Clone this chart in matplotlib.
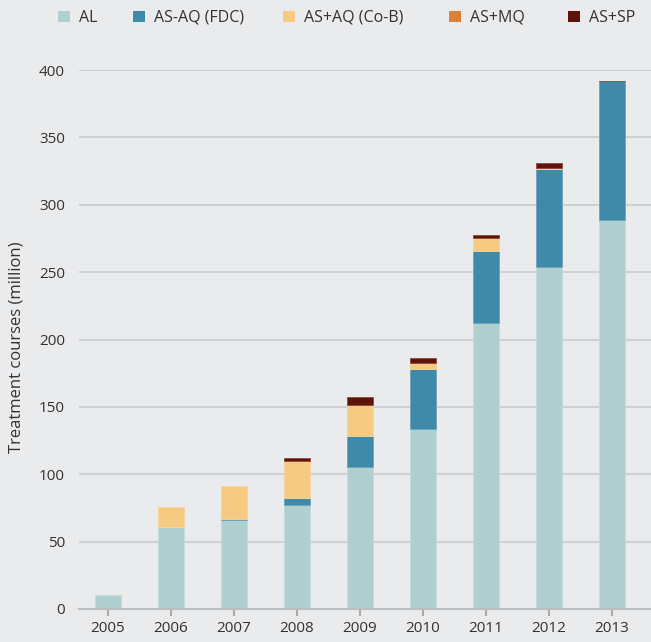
import matplotlib
matplotlib.use("Agg")
import matplotlib.pyplot as plt
from matplotlib.patches import Patch
import numpy as np

years = ["2005", "2006", "2007", "2008", "2009", "2010", "2011", "2012", "2013"]
series_names = ["AL", "AS-AQ (FDC)", "AS+AQ (Co-B)", "AS+MQ", "AS+SP"]
al      = [10.5, 61.0, 66.0, 77.5, 105.5, 133.5, 212.5, 253.5, 288.5]
as_aq   = [0.0, 0.0, 1.0, 5.0, 23.0, 44.5, 53.0, 73.0, 103.0]
as_aq_cob = [0.0, 15.0, 24.5, 27.5, 23.0, 4.8, 10.0, 0.6, 0.0]
as_mq   = [0.0, 0.0, 0.0, 0.0, 0.0, 0.0, 0.0, 0.5, 0.0]
as_sp   = [0.0, 0.0, 0.0, 1.8, 5.5, 3.3, 2.0, 3.3, 0.7]
yticks = [0, 50, 100, 150, 200, 250, 300, 350, 400]

colors = ["#B0CFD1", "#3F89A9", "#F6CA80", "#D9823A", "#5E1409"]
edges = ["#C3DBDC", "#6FA3BC", "#F8D69C", "#E39A5E", "#8A4A40"]
bg = "#EAEBED"
txt = "#333333"

plt.rcParams['font.family'] = ['Open Sans', 'DejaVu Sans']

fig = plt.figure(figsize=(6.51, 6.42), dpi=100, facecolor=bg)
ax = fig.add_axes([79/651, 1 - 609/642, 1 - 79/651, (609 - 70)/642])
ax.set_facecolor(bg)

x = np.arange(len(years))
bottom = np.zeros(len(years))
for vals, c, ec, name in zip([al, as_aq, as_aq_cob, as_mq, as_sp], colors, edges, series_names):
    v = np.array(vals)
    lw = [0.6 if vv > 0 else 0 for vv in v]
    ax.bar(x, v, width=0.4, bottom=bottom, color=c, edgecolor=ec, linewidth=lw, label=name, zorder=3)
    bottom += v

ax.set_xlim(-0.46, 8.62)
ax.set_ylim(0, 400)
ax.set_yticks(yticks)
ax.set_xticks(x)
ax.set_xticklabels(years)
ax.yaxis.grid(True, color="#CACBCD", linewidth=1.2, zorder=0)
ax.set_axisbelow(True)
for s in ["top", "right", "left"]:
    ax.spines[s].set_visible(False)
ax.spines["bottom"].set_color("#BDBEC0")
ax.spines["bottom"].set_linewidth(1.5)
ax.spines["bottom"].set_zorder(4)
ax.tick_params(axis="y", length=0, pad=10, labelsize=11, labelcolor=txt)
ax.tick_params(axis="x", length=5, width=1.5, color="#AAAAAA", pad=4, labelsize=11, labelcolor=txt)
ax.set_ylabel("Treatment courses (million)", fontsize=12, color=txt)
ax.yaxis.set_label_coords(-54/572, (609 - 347.5)/539)

# legend entries placed at reference positions
leg_x = [58, 133, 283, 449, 568]
for xs, c, name in zip(leg_x, colors, series_names):
    lg = fig.legend([Patch(facecolor=c, edgecolor="none")], [name], loc="center left",
                    bbox_to_anchor=(xs/651, 1 - 18/642), frameon=False, fontsize=11.5,
                    handlelength=0.75, handleheight=0.75, handletextpad=0.55,
                    borderpad=0, borderaxespad=0, labelcolor=txt)

fig.savefig("out.png", dpi=100, facecolor=bg)
